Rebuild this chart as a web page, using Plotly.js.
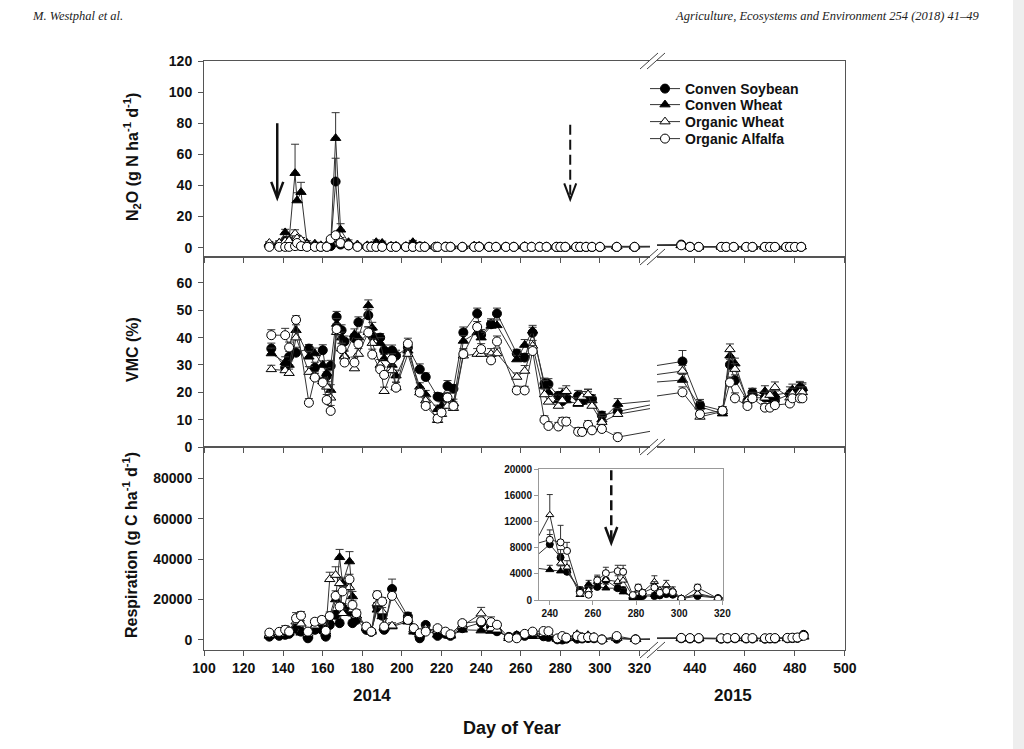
<!DOCTYPE html>
<html><head><meta charset="utf-8">
<script src="https://cdn.plot.ly/plotly-3.0.1.min.js"></script>
<style>
html,body{margin:0;padding:0;background:#fff;overflow:hidden;}
#bgr{position:absolute;left:1013px;top:0;width:11px;height:749px;background:#eeeeee;}
#chart{position:absolute;left:0;top:0;width:1024px;height:749px;}
</style></head><body>
<div id="bgr"></div>
<div id="chart"></div>
<script>
const seriesNames = ['Conven Soybean','Conven Wheat','Organic Wheat','Organic Alfalfa'];

// ---------- N2O (g N ha-1 d-1) ----------
const n2oDays = [133,138,141,143,146,147,149,152,156,159, 162,164,166.5,169,173,177.5,182.5,184.5,187,190,
  194.5,197,202,205.5,209,211.5,217,218,222,224.5, 230.5,236.5,239,244,247.5,252.5,256.5,262,265.5,269.5,
  273,278,280,282.5,288,290,293,296,300,308.5,317.5,
  434.5,438,441.5,450.5,452.5,455.5,460.5,463,468,470,472,476.5,478,480,482.5];
const n2oSoy = [1,1,4.5,3.5,2,1.5,1,0.8,0.8,0.6, 0.6,1,42.5,2,1.5,0.8,0.7,0.7,0.6,0.7,
  0.6,0.6,0.5,0.5,0.8,0.5,0.5,0.5,0.6,0.5, 0.4,0.6,0.6,0.5,0.4,0.5,0.5,0.5,0.5,0.5,
  0.5,0.4,0.4,0.4,0.4,0.4,0.4,0.4,0.4,0.4,0.4,
  2,0.6,0.5,0.5,0.5,0.5,0.5,0.5,0.5,0.5,0.5,0.5,0.5,0.5,0.5];
const n2oCW = [2,3,9.8,5,47.9,30.3,35.7,3,2.5,1, 1,2,70.4,11.5,3.5,2,1.5,1,3.5,3,
  1,1,1,3.5,1,1,0.8,0.8,0.8,0.8, 0.8,1.2,1,0.8,0.8,0.8,0.8,1,0.8,0.8,
  0.8,0.8,0.8,0.8,0.8,0.8,0.8,0.8,0.8,0.8,0.8,
  1.5,0.6,0.6,0.6,0.6,0.6,0.6,0.6,0.6,0.6,0.6,0.6,0.6,0.6,0.8];
const n2oOW = [3,3,4,4.5,9,6,5,2,1.5,1.5, 1.5,5,7,5,2,1.5,1,1,1,1,
  1,1,0.8,0.8,0.8,0.8,0.8,0.8,0.8,0.8, 0.8,1,1,0.8,0.8,0.8,0.8,0.8,0.8,0.8,
  0.8,0.8,0.8,0.8,0.8,0.8,0.8,0.8,0.8,0.8,0.8,
  1.5,0.6,0.6,0.6,0.6,0.6,0.6,0.6,0.6,0.6,0.6,0.6,0.6,0.6,0.6];
const n2oOA = [0.5,0.5,0.5,0.5,1,3,1,0.5,0.5,0.5, 0.5,5.5,8,3,1.5,0.5,0.5,0.5,0.5,0.5,
  0.5,0.5,0.5,0.5,0.5,0.5,0.5,0.5,0.5,0.5, 0.5,0.5,0.5,0.5,0.5,0.5,0.5,0.5,0.5,0.5,
  0.5,0.5,0.5,0.5,0.5,0.5,0.5,0.5,0.5,0.5,0.5,
  1.5,0.5,0.5,0.5,0.5,0.5,0.5,0.5,0.5,0.5,0.5,0.5,0.5,0.5,0.5];
const n2oSoyErr = [0.5,0.5,1.5,1,0.8,0.5,0.5,0.3,0.3,0.3, 0.3,0.5,15,1.5,0.8,0.3,0.3,0.3,0.3,0.3,
  0.3,0.3,0.3,0.3,0.5,0.3,0.3,0.3,0.3,0.3, 0.3,0.3,0.3,0.3,0.3,0.3,0.3,0.3,0.3,0.3,
  0.3,0.3,0.3,0.3,0.3,0.3,0.3,0.3,0.3,0.3,0.3,
  0.8,0.3,0.3,0.3,0.3,0.3,0.3,0.3,0.3,0.3,0.3,0.3,0.3,0.3,0.3];
const n2oCWErr = [1,1.5,2,1.5,18.6,5,6.3,1.5,1,0.5, 0.5,1,16.4,3.9,1.5,0.8,0.5,0.5,1.5,1.2,
  0.5,0.5,0.5,1.2,0.5,0.5,0.3,0.3,0.3,0.3, 0.3,0.8,0.5,0.3,0.3,0.3,0.3,0.5,0.3,0.3,
  0.3,0.3,0.3,0.3,0.3,0.3,0.3,0.3,0.3,0.3,0.3,
  0.5,0.3,0.3,0.3,0.3,0.3,0.3,0.3,0.3,0.3,0.3,0.3,0.3,0.3,0.3];
const n2oOWErr = [1,1,1.5,1.5,2.5,2,1.5,0.8,0.5,0.5, 0.5,1.5,2,1.5,0.8,0.5,0.5,0.5,0.5,0.5,
  0.3,0.3,0.3,0.3,0.3,0.3,0.3,0.3,0.3,0.3, 0.3,0.3,0.3,0.3,0.3,0.3,0.3,0.3,0.3,0.3,
  0.3,0.3,0.3,0.3,0.3,0.3,0.3,0.3,0.3,0.3,0.3,
  0.5,0.3,0.3,0.3,0.3,0.3,0.3,0.3,0.3,0.3,0.3,0.3,0.3,0.3,0.3];
const n2oOAErr = [0.3,0.3,0.3,0.3,0.5,1,0.5,0.3,0.3,0.3, 0.3,1,1.5,1,0.5,0.3,0.3,0.3,0.3,0.3,
  0.3,0.3,0.3,0.3,0.3,0.3,0.3,0.3,0.3,0.3, 0.3,0.3,0.3,0.3,0.3,0.3,0.3,0.3,0.3,0.3,
  0.3,0.3,0.3,0.3,0.3,0.3,0.3,0.3,0.3,0.3,0.3,
  0.5,0.3,0.3,0.3,0.3,0.3,0.3,0.3,0.3,0.3,0.3,0.3,0.3,0.3,0.3];

// ---------- VMC (%) ----------
const vmcDays = [134,141,143,146.5,153,156,160,162,164,167, 169.5,171,176,178,183,185,189,191,195,197,
  203,209,212,218,220,223,226,231,238,240, 245,248,258,262,266,272,274,279,281,283,
  289,291,294,296,301,309,
  435,442,451,454,456,461,463,468,470,472,478,479,482,483];
const vmcSoy = [36,29,33,34.5,36,29,35.4,26,29.7,47.6, 42.7,38.6,39.8,45.6,48.2,40.6,40,35.3,35.3,33.4,
  36.4,28.4,25.6,18.4,18,22.3,21.3,41.9,48.8,41, 44.9,48.8,34.2,32.7,41.8,23.2,23,18.7,16.8,18,
  18.7,17,18.2,17.6,11.5,13,
  31.3,15.4,13.3,30.1,24.4,16.8,19.9,18.1,18,17,19.3,20,21.6,21];
const vmcCW = [34.2,31,30,42.7,33,34.2,30,27,20.8,45, 40,33.4,41.2,40,51.8,43.6,38,32.4,30,26.1,
  35.2,22,19.2,13.8,15,18,16,38.8,41.9,40, 44.3,44.5,32,37.3,42.5,22.3,20,17,19.5,17,
  15.7,16.5,19,17,10,15.7,
  24.5,14.7,12.2,33.4,30.5,17,19.5,20.4,18.5,19,20,21,22,21.5];
const vmcOW = [28.4,28,27,40,27.4,26,24,22,18,42, 36,33,28.7,34,42,38,30,20.4,28,21.7,
  34,19.9,17,9.8,12,15,14.2,33.4,34,34, 34,34.2,25.6,27.8,37,19.2,16.5,15,17,20.4,
  16,18.3,19.2,15,9.1,12,
  27.8,11,13,35.7,28.5,17,18,18,19,21.8,18,19.5,20,20];
const vmcOA = [40.9,40.9,36.4,46.5,16.2,25.4,23.6,17.2,13.2,43.1, 35.8,30.9,30.9,37.7,41.9,33.8,28.4,26.4,32.1,21.7,
  37.8,19.9,15,10.4,12.6,18.1,15,34,43.9,35.8, 31.7,38.6,20.7,20.7,35.1,9.9,7.7,7.5,9.3,9.3,
  5.6,5.5,8.1,6.1,6.6,3.6,
  20,12,13.3,23.6,17.8,15,17.8,14.4,14.4,15.3,15.9,17.8,17.8,17.8];
const vmcSoyErr = [2,1.5,2,2,1.5,2,2,1.5,2,2, 2,2,1.5,2,2,2,1.5,2,2,2,
  2,2,1.5,1.5,1.5,2,1.5,2,2,2, 2,2,1.5,1.5,2,2,2,1.5,1.5,1.5,
  2,2,2,1.5,1.5,2,
  4,2,1.5,2,2,1.5,1.5,1.5,1.5,1.5,1.5,1.5,2,2];
const vmcCWErr = [2,2,1.5,2,2,2,1.5,2,2,2, 2,2,2,2,2,2,2,1.5,1.5,2,
  2,1.5,1.5,1.5,1.5,2,1.5,2,2,2, 2,2,1.5,2,2,2,2,2,2,2,
  2,2,2,1.5,2,2,
  2,2,1.5,2,2,1.5,2,2,1.5,1.5,2,2,2,2];
const vmcOWErr = [1.5,1.5,1.5,2,2,1.5,1.5,2,2,2, 2,2,2,2,2,1.5,2,1.5,2,2,
  2,1.5,1.5,1.5,1.5,1.5,1.5,2,2,2, 2,2,1.5,2,2,2,2,2,2,2,
  2,2,2,1.5,2,2,
  2,2,1.5,2,2,1.5,2,2,1.5,2,2,2,2,2];
const vmcOAErr = [2,2.5,2,1.5,1.5,1.5,1.5,2,2,2, 2,1.5,2,2,2,2,1.5,1.5,2,2,
  2,1.5,1.5,1.5,1.5,1.5,1.5,2,2,2, 2,2,1.5,1.5,2,1.5,1.5,1.5,1.5,1.5,
  1.5,1.5,1.5,1.5,1.5,1.5,
  2,1.5,1.5,2,2,1.5,1.5,1.5,1.5,1.5,1.5,1.5,1.5,1.5];

// ---------- Respiration (g C ha-1 d-1) ----------
const respDays = [133,138,141,143,146.5,149,152.5,156,159.5,161.5, 163.5,166.5,168.5,170,173.5,175,177,182,184.5,187.5,
  190,191,195,203,206,209,212,218,222,224.5, 230.5,240,245,248,254,258,262,266,271.5,274,
  278.5,281,283,288.5,291,294,297,301,308.5,318,
  434.5,438,441.5,450.5,453,456,460.5,463,468,470,472,477,479,481,483.5];
const respSoy = [1600,2000,2500,3000,5500,4100,800,5000,5000,1600, 7400,12400,8300,16000,14000,8300,9900,5000,4000,16500,
  12000,5000,25200,11600,5000,800,7400,2000,3000,2000, 5800,8500,6500,4300,1500,2000,2000,3000,1800,1500,
  250,200,600,600,700,900,800,200,600,300,
  800,700,700,600,700,800,700,700,600,700,700,800,900,1000,2500];
const respCW = [2000,2500,4000,3500,6900,3500,2000,5500,7000,3000, 9000,20000,40900,28000,38800,21500,12000,6000,4500,14900,
  11600,6000,6600,9000,4000,2500,5000,2500,3000,2000, 5000,4600,4400,4500,1500,2400,2100,1800,1800,1200,
  400,300,700,800,900,1000,900,300,800,300,
  700,600,600,500,600,700,600,600,500,600,600,700,800,900,1500];
const respOW = [2500,3000,5000,4500,9000,8000,3000,7000,8500,4000, 30000,32100,28000,13200,26000,15000,12000,6000,4000,18000,
  14000,6000,7000,10000,5000,3000,5500,4500,4000,2500, 7000,13000,5600,5000,800,1500,2800,3100,2800,3000,
  600,1500,1200,2800,1500,2300,1500,200,1000,300,
  900,800,800,700,800,900,800,800,700,800,800,900,1000,1100,1800];
const respOA = [3600,4000,5000,4100,10700,12000,4100,9000,9900,4500, 11800,21800,16500,24000,30000,17300,13200,6600,4100,22200,
  19000,6600,21800,9900,5800,3300,4100,5800,4100,2800, 8300,9200,8800,7500,1100,800,3000,4100,4400,4300,
  750,1900,1100,1900,1100,1400,1200,200,1900,200,
  1000,900,900,800,900,1000,900,900,800,900,900,1000,1100,1200,2000];
const respSoyErr = [500,600,800,800,1200,1000,400,1000,1000,500, 1500,2000,1500,2000,2000,1500,1500,1000,800,2000,
  2000,1000,4900,2000,1000,400,1200,600,800,600, 1000,1500,1200,800,500,600,600,800,500,500,
  200,200,300,300,300,300,300,200,300,200,
  300,300,300,300,300,300,300,300,300,300,300,300,300,300,600];
const respCWErr = [500,600,1000,800,1500,800,500,1200,1200,800, 2000,2500,3900,2500,4900,2500,2000,1200,1000,2000,
  2000,1200,1200,1500,800,600,1000,600,800,600, 1000,700,800,800,500,600,600,600,600,500,
  200,200,300,300,300,300,300,200,300,200,
  300,300,300,300,300,300,300,300,300,300,300,300,300,300,500];
const respOWErr = [600,800,2000,1000,2000,1500,800,1500,1500,1000, 3500,4100,3000,2000,3000,2000,2000,1200,1000,2500,
  2000,1200,1500,1500,1000,800,1200,1000,800,600, 1500,3100,1500,1000,400,600,800,800,900,900,
  300,500,400,900,500,700,500,200,400,200,
  300,300,300,300,300,300,300,300,300,300,300,300,300,300,500];
const respOAErr = [800,1000,1200,1000,2800,2000,1000,1500,1500,1000, 2000,2500,2000,2500,2500,2000,1800,1200,1000,2000,
  2000,1200,2000,1500,1000,800,1000,1000,800,600, 1000,1500,2600,1300,400,400,800,900,900,1000,
  300,500,400,900,400,500,400,200,500,200,
  300,300,300,300,300,300,300,300,300,300,300,300,300,300,600];

// ---------- arrows (management events) ----------
const arrowDays = [137, 285];        // top panel: solid, dashed
const arrowFrom = [80, 79];
const arrowTo = [32, 31];
const insetArrowDay = 268.5;
const insetArrowFrom = 19800;
const insetArrowTo = 8700;

// ---------- layout geometry ----------
const W = 1024, H = 749;
const M = {l:204, r:179, t:61, b:99};
const PW = W - M.l - M.r, PH = H - M.t - M.b;
const px = x => (x - M.l) / PW;
const py = y => (H - M.b - y) / PH;

const xd14 = [0, px(650)], xd15 = [px(657), 1];
const yd = [[py(257), 1], [py(447), py(257)], [0, py(447)]];
const ydInset = [py(600), py(469)];
const xdInset = [px(539), px(723)];

const SYM = ['circle', 'triangle-up', 'triangle-up', 'circle'];
const FILL = ['#000', '#000', '#fff', '#fff'];
const FONT = 'Liberation Sans, Arial, Helvetica, sans-serif';
const LEG = ['legend', 'legend2', 'legend3', 'legend4'];
const legendRows = [89, 105, 122, 139];

function zeros(a){ return a.map(() => 0); }
function tr(days, vals, errs, s, xa, ya, showleg, msize, capw){
  return {type:'scatter', mode:'lines+markers', x:days, y:vals, xaxis:xa, yaxis:ya,
    name:seriesNames[s], showlegend:showleg, legend:LEG[s],
    line:{color:'#333', width:1},
    marker:{symbol:SYM[s], size:msize, color:FILL[s], line:{color:'#000', width:1}},
    error_y:{type:'data', symmetric:false, array:errs, arrayminus:zeros(errs), color:'#333', thickness:1, width:capw},
    connectgaps:true, cliponaxis:true, hoverinfo:'skip'};
}

const panels = [
  {days:n2oDays, vals:[n2oSoy,n2oCW,n2oOW,n2oOA], errs:[n2oSoyErr,n2oCWErr,n2oOWErr,n2oOAErr]},
  {days:vmcDays, vals:[vmcSoy,vmcCW,vmcOW,vmcOA], errs:[vmcSoyErr,vmcCWErr,vmcOWErr,vmcOAErr]},
  {days:respDays, vals:[respSoy,respCW,respOW,respOA], errs:[respSoyErr,respCWErr,respOWErr,respOAErr]}
];

const traces = [];
panels.forEach((p, i) => {
  const a = 2*i + 1, b = 2*i + 2;
  const xa = a === 1 ? 'x' : 'x' + a, ya = a === 1 ? 'y' : 'y' + a;
  for (let s = 0; s < 4; s++) traces.push(tr(p.days, p.vals[s], p.errs[s], s, xa, ya, i === 0, 9, 4));
  for (let s = 0; s < 4; s++) traces.push(tr(p.days, p.vals[s], p.errs[s], s, 'x' + b, 'y' + b, false, 9, 4));
});
for (let s = 0; s < 4; s++) traces.push(tr(respDays, panels[2].vals[s], panels[2].errs[s], s, 'x7', 'y7', false, 7, 3));

const tickFont = {family:FONT, size:14, color:'#111', weight:'bold'};
const LINE = '#555';
const yRanges = [[-6, 120.01], [0, 69.5], [-5000, 95500]];
const yDt = [20, 10, 20000];

const layout = {
  width:W, height:H, margin:M, paper_bgcolor:'rgba(0,0,0,0)', plot_bgcolor:'#fff',
  showlegend:true, shapes:[], annotations:[]
};
LEG.forEach((k, s) => {
  layout[k] = {x:px(645), y:py(legendRows[s]), xanchor:'left', yanchor:'middle', bgcolor:'rgba(0,0,0,0)',
    borderwidth:0, font:{family:FONT, size:14, color:'#111', weight:'bold'}, itemwidth:30};
});

for (let i = 0; i < 3; i++) {
  const a = 2*i + 1, b = 2*i + 2;
  const xk = a === 1 ? 'xaxis' : 'xaxis' + a, yk = a === 1 ? 'yaxis' : 'yaxis' + a;
  const ya = a === 1 ? 'y' : 'y' + a, xa = a === 1 ? 'x' : 'x' + a;
  layout[xk] = {domain:xd14, range:[100, 325.3], anchor:ya, showline:true, linecolor:LINE, linewidth:1,
    mirror:true, ticks:'outside', ticklen:5, tickcolor:LINE, tick0:100, dtick:20,
    showticklabels:i === 2, tickfont:tickFont, showgrid:false, zeroline:false, fixedrange:true};
  layout['xaxis' + b] = {domain:xd15, range:[424.8, 500.05], anchor:'y' + b, showline:true, linecolor:LINE, linewidth:1,
    mirror:true, ticks:'outside', ticklen:5, tickcolor:LINE, tick0:440, dtick:20,
    showticklabels:i === 2, tickfont:tickFont, showgrid:false, zeroline:false, fixedrange:true};
  layout[yk] = {domain:yd[i], range:yRanges[i], anchor:xa, showline:true, linecolor:LINE, linewidth:1,
    ticks:'outside', ticklen:5, tickcolor:LINE, tick0:0, dtick:yDt[i], tickfont:tickFont, tickformat:'d',
    ticklabelstandoff:3, showgrid:false, zeroline:false, fixedrange:true};
  layout['yaxis' + b] = {domain:yd[i], range:yRanges[i], anchor:'x' + b, side:'right', showline:true,
    linecolor:LINE, linewidth:1, ticks:'', showticklabels:false, showgrid:false, zeroline:false, fixedrange:true};
}
const insetFont = {family:FONT, size:10, color:'#111', weight:'bold'};
layout.xaxis7 = {domain:xdInset, range:[235, 320.3], anchor:'y7', showline:true, linecolor:'#999', mirror:true,
  ticks:'outside', ticklen:4, tickcolor:'#999', tick0:240, dtick:20, tickfont:insetFont,
  showgrid:false, zeroline:false, fixedrange:true};
layout.yaxis7 = {domain:ydInset, range:[0, 20000], anchor:'x7', showline:true, linecolor:'#999', mirror:true,
  ticks:'outside', ticklen:4, tickcolor:'#999', tick0:0, dtick:4000, tickfont:insetFont, tickformat:'d',
  showgrid:false, zeroline:false, fixedrange:true};

// axis break marks
[61, 257, 447, 650].forEach(y => {
  [[640, 658], [647, 665]].forEach(([xa, xb]) => {
    layout.shapes.push({type:'line', xref:'paper', yref:'paper', x0:px(xa), y0:py(y + 8), x1:px(xb), y1:py(y - 8),
      line:{color:'#444', width:1}});
  });
});

// arrows
function arrow(xr, yr, xv, from, to, dash, w){
  layout.shapes.push({type:'line', xref:xr, yref:yr, x0:xv, x1:xv, y0:from, y1:to,
    line:{color:'#111', width:w, dash:dash}});
  layout.shapes.push({type:'path', xref:xr, yref:yr, xsizemode:'pixel', ysizemode:'pixel',
    xanchor:xv, yanchor:to, path:'M-6,16L0,0L6,16', line:{color:'#111', width:w}});
}
arrow('x', 'y', arrowDays[0], arrowFrom[0], arrowTo[0], 'solid', 2.5);
arrow('x', 'y', arrowDays[1], arrowFrom[1], arrowTo[1], '10px,5px', 2);
arrow('x7', 'y7', insetArrowDay, insetArrowFrom, insetArrowTo, '10px,5px', 2.5);

// titles and labels
const bold = s => ({family:FONT, size:s, color:'#111', weight:'bold'});
function ann(text, x, y, font, extra){
  layout.annotations.push(Object.assign({text:text, xref:'paper', yref:'paper', x:px(x), y:py(y),
    showarrow:false, font:font, xanchor:'center', yanchor:'middle'}, extra || {}));
}
ann('N<sub>2</sub>O (g N ha<sup>-1</sup> d<sup>-1</sup>)', 132, 157, bold(16), {textangle:-90});
ann('VMC (%)', 132, 350, bold(16), {textangle:-90});
ann('Respiration (g C ha<sup>-1</sup> d<sup>-1</sup>)', 130, 545, bold(16), {textangle:-90});
ann('2014', 372, 695, bold(17));
ann('2015', 733, 695, bold(17));
ann('Day of Year', 512, 728, bold(18));
ann('<i>M. Westphal et al.</i>', 30, 16, {family:'Liberation Serif, serif', size:12.5, color:'#222'}, {xanchor:'left'});
ann('<i>Agriculture, Ecosystems and Environment 254 (2018) 41–49</i>', 982, 16,
  {family:'Liberation Serif, serif', size:12.5, color:'#222'}, {xanchor:'right'});

Plotly.newPlot('chart', traces, layout, {displayModeBar:false, staticPlot:true});
</script>
</body></html>
